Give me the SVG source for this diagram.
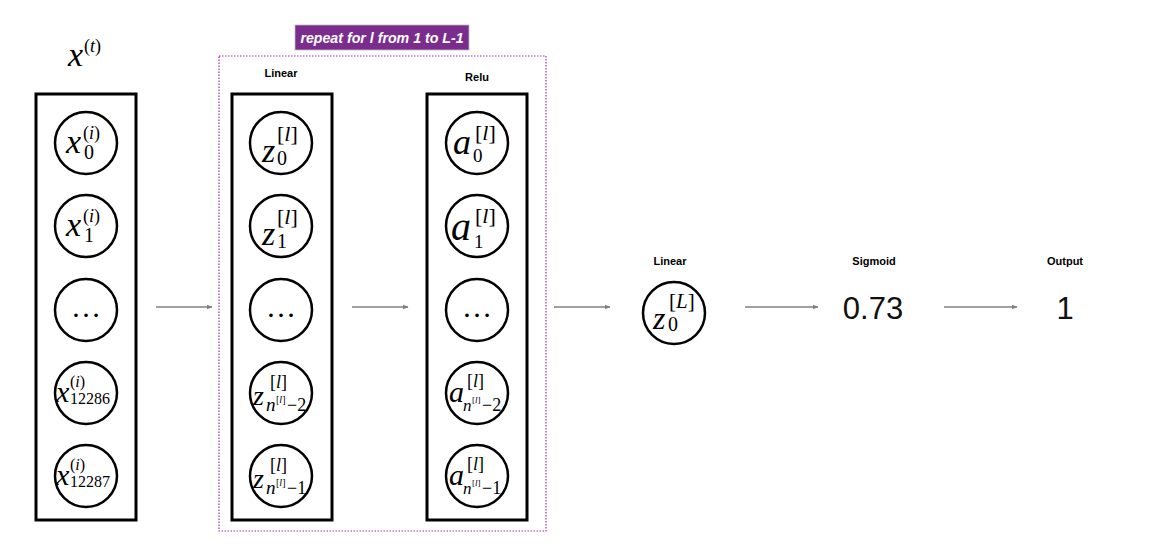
<svg xmlns="http://www.w3.org/2000/svg" width="1164" height="549" viewBox="0 0 1164 549">
<defs>
<marker id="ah" viewBox="0 0 10 10" refX="9" refY="5" markerWidth="6" markerHeight="6" markerUnits="userSpaceOnUse" orient="auto"><path d="M0,1 L10,5 L0,9 z" fill="#808080"/></marker>
<style>
.box{fill:none;stroke:#000;stroke-width:3}
.node{fill:#fff;stroke:#000;stroke-width:2.5}
.m{font-family:"Liberation Serif","DejaVu Serif",serif;fill:#000}
.i{font-style:italic}
.dots{font-family:"Liberation Serif",serif;font-size:30px;text-anchor:middle;fill:#000}
.lbl{font-family:"Liberation Sans",Arial,sans-serif;font-weight:bold;font-size:11px;text-anchor:middle;fill:#000}
.val{font-family:"Liberation Sans",Arial,sans-serif;font-size:31px;text-anchor:middle;fill:#111}
.arr{stroke:#808080;stroke-width:1.5;fill:none;marker-end:url(#ah)}
</style>
</defs>
<rect width="1164" height="549" fill="#fff"/>

<g id="input-label">
<text class="m i" x="68" y="66" font-size="34">x</text>
<text class="m" x="84" y="52" font-size="18">(<tspan class="i">t</tspan>)</text>
</g>

<g id="repeat-region">
<rect x="219" y="56" width="327" height="475" fill="none" stroke="#9b30b0" stroke-width="1.2" stroke-dasharray="1.5,1.5"/>
<rect x="295" y="25" width="174" height="25" fill="#7a2d8c" stroke="#bbb" stroke-width="0.8"/>
<text x="382" y="43" font-family="Liberation Sans,Arial,sans-serif" font-weight="bold" font-style="italic" font-size="14.2" fill="#fff" text-anchor="middle">repeat for l from 1 to L-1</text>
</g>

<g id="input-layer">
<rect class="box" x="36" y="94" width="100" height="426"/>
<circle class="node" cx="86" cy="143" r="31"/>
<text class="m i" x="66" y="153" font-size="34">x</text>
<text class="m" x="83" y="139" font-size="18">(<tspan class="i">i</tspan>)</text>
<text class="m" x="84" y="159" font-size="20">0</text>
<circle class="node" cx="86" cy="226" r="31"/>
<text class="m i" x="66" y="236" font-size="34">x</text>
<text class="m" x="83" y="222" font-size="18">(<tspan class="i">i</tspan>)</text>
<text class="m" x="84" y="242" font-size="20">1</text>
<circle class="node" cx="86" cy="310" r="31"/>
<text class="dots" x="86" y="317">…</text>
<circle class="node" cx="86" cy="393" r="31"/>
<text class="m i" x="56" y="402" font-size="30">x</text>
<text class="m" x="70" y="387" font-size="16">(<tspan class="i">i</tspan>)</text>
<text class="m" x="70" y="404" font-size="16">12286</text>
<circle class="node" cx="86" cy="476" r="31"/>
<text class="m i" x="56" y="485" font-size="30">x</text>
<text class="m" x="70" y="470" font-size="16">(<tspan class="i">i</tspan>)</text>
<text class="m" x="70" y="487" font-size="16">12287</text>
</g>

<g id="linear-layer">
<text class="lbl" x="281" y="77">Linear</text>
<rect class="box" x="232" y="94" width="100" height="426"/>
<circle class="node" cx="281" cy="143" r="31"/>
<text class="m i" x="262" y="162" font-size="34">z</text>
<text class="m" x="277" y="141" font-size="22">[<tspan class="i">l</tspan>]</text>
<text class="m" x="277" y="165" font-size="20">0</text>
<circle class="node" cx="281" cy="226" r="31"/>
<text class="m i" x="262" y="245" font-size="34">z</text>
<text class="m" x="277" y="224" font-size="22">[<tspan class="i">l</tspan>]</text>
<text class="m" x="277" y="248" font-size="20">1</text>
<circle class="node" cx="281" cy="310" r="31"/>
<text class="dots" x="281" y="317">…</text>
<circle class="node" cx="281" cy="393" r="31"/>
<text class="m i" x="253" y="405" font-size="28">z</text>
<text class="m" x="270" y="388" font-size="18">[<tspan class="i">l</tspan>]</text>
<text class="m i" x="266" y="411" font-size="19">n</text>
<text class="m" x="276" y="403" font-size="10">[<tspan class="i">l</tspan>]</text>
<text class="m" x="287" y="411" font-size="18">−2</text>
<circle class="node" cx="281" cy="476" r="31"/>
<text class="m i" x="253" y="488" font-size="28">z</text>
<text class="m" x="270" y="471" font-size="18">[<tspan class="i">l</tspan>]</text>
<text class="m i" x="266" y="494" font-size="19">n</text>
<text class="m" x="276" y="486" font-size="10">[<tspan class="i">l</tspan>]</text>
<text class="m" x="287" y="494" font-size="18">−1</text>
</g>

<g id="relu-layer">
<text class="lbl" x="477" y="81">Relu</text>
<rect class="box" x="427" y="94" width="100" height="426"/>
<circle class="node" cx="477" cy="143" r="31"/>
<text class="m i" x="453" y="154" font-size="36">a</text>
<text class="m" x="475" y="140" font-size="22">[<tspan class="i">l</tspan>]</text>
<text class="m" x="473" y="162" font-size="19">0</text>
<circle class="node" cx="477" cy="226" r="31"/>
<text class="m i" x="451" y="240" font-size="40">a</text>
<text class="m" x="475" y="223" font-size="22">[<tspan class="i">l</tspan>]</text>
<text class="m" x="474" y="248" font-size="19">1</text>
<circle class="node" cx="477" cy="310" r="31"/>
<text class="dots" x="477" y="317">…</text>
<circle class="node" cx="477" cy="393" r="31"/>
<text class="m i" x="449" y="402" font-size="30">a</text>
<text class="m" x="467" y="387" font-size="18">[<tspan class="i">l</tspan>]</text>
<text class="m i" x="463" y="411" font-size="17">n</text>
<text class="m" x="472" y="403" font-size="9">[<tspan class="i">l</tspan>]</text>
<text class="m" x="482" y="411" font-size="18">−2</text>
<circle class="node" cx="477" cy="476" r="31"/>
<text class="m i" x="449" y="485" font-size="30">a</text>
<text class="m" x="467" y="470" font-size="18">[<tspan class="i">l</tspan>]</text>
<text class="m i" x="463" y="494" font-size="17">n</text>
<text class="m" x="472" y="486" font-size="9">[<tspan class="i">l</tspan>]</text>
<text class="m" x="482" y="494" font-size="18">−1</text>
</g>

<g id="final-linear">
<text class="lbl" x="670" y="265">Linear</text>
<circle class="node" cx="674" cy="313" r="31"/>
<text class="m i" x="653" y="329" font-size="32">z</text>
<text class="m" x="669" y="308" font-size="21">[<tspan class="i">L</tspan>]</text>
<text class="m" x="668" y="331" font-size="20">0</text>
</g>

<g id="sigmoid">
<text class="lbl" x="874" y="265">Sigmoid</text>
<text class="val" x="873" y="319">0.73</text>
</g>

<g id="output">
<text class="lbl" x="1065" y="265">Output</text>
<text class="val" x="1065" y="319">1</text>
</g>

<g id="connectors">
<line class="arr" x1="156" y1="307" x2="212" y2="307"/>
<line class="arr" x1="352" y1="307" x2="408" y2="307"/>
<line class="arr" x1="554" y1="307" x2="610" y2="307"/>
<line class="arr" x1="745" y1="307" x2="818" y2="307"/>
<line class="arr" x1="944" y1="307" x2="1017" y2="307"/>
</g>
</svg>
